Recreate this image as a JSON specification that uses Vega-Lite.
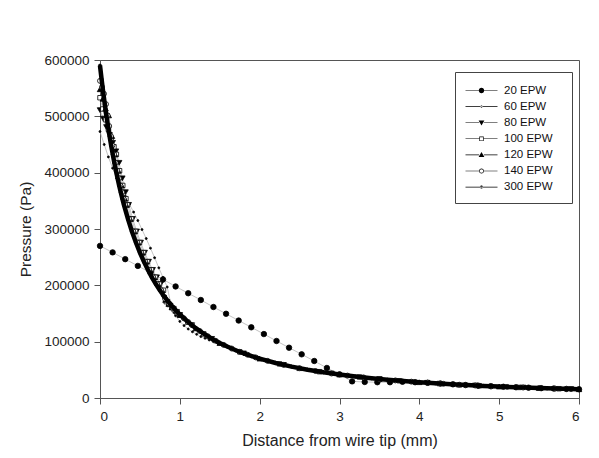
{
  "$schema": "https://vega.github.io/schema/vega-lite/v6.json",
  "width": 479,
  "height": 338,
  "autosize": {"type": "none"},
  "padding": {"left": 100, "top": 60, "right": 20, "bottom": 60},
  "background": "white",
  "config": {
    "font": "Liberation Sans",
    "view": {"stroke": "#555", "strokeWidth": 1},
    "axis": {"grid": false, "domainColor": "#555", "tickColor": "#555", "labelColor": "#222", "titleColor": "#222", "labelFont": "Liberation Sans", "titleFont": "Liberation Sans", "titleFontWeight": "normal", "tickSize": 6, "labelFontSize": 13.5}
  },
  "data": {"values": [
    {"s":"20 EPW","x":0,"y":270000},{"s":"20 EPW","x":0.158,"y":258500},{"s":"20 EPW","x":0.316,"y":246500},{"s":"20 EPW","x":0.474,"y":234500},{"s":"20 EPW","x":0.632,"y":222500},{"s":"20 EPW","x":0.789,"y":210500},{"s":"20 EPW","x":0.947,"y":198000},{"s":"20 EPW","x":1.105,"y":186000},{"s":"20 EPW","x":1.263,"y":174000},{"s":"20 EPW","x":1.421,"y":161500},{"s":"20 EPW","x":1.579,"y":149500},{"s":"20 EPW","x":1.737,"y":137500},{"s":"20 EPW","x":1.895,"y":125500},{"s":"20 EPW","x":2.053,"y":113500},{"s":"20 EPW","x":2.211,"y":101200},{"s":"20 EPW","x":2.368,"y":89300},{"s":"20 EPW","x":2.526,"y":77500},{"s":"20 EPW","x":2.684,"y":65700},{"s":"20 EPW","x":2.842,"y":53300},{"s":"20 EPW","x":3.0,"y":42000},{"s":"20 EPW","x":3.158,"y":29500},{"s":"20 EPW","x":3.316,"y":28500},{"s":"20 EPW","x":3.474,"y":28000},{"s":"20 EPW","x":3.632,"y":28000},{"s":"20 EPW","x":3.789,"y":28800},{"s":"20 EPW","x":3.947,"y":28000},{"s":"20 EPW","x":4.105,"y":27000},{"s":"20 EPW","x":4.263,"y":25600},{"s":"20 EPW","x":4.421,"y":24300},{"s":"20 EPW","x":4.579,"y":23000},{"s":"20 EPW","x":4.737,"y":21900},{"s":"20 EPW","x":4.895,"y":20900},{"s":"20 EPW","x":5.053,"y":19900},{"s":"20 EPW","x":5.211,"y":19100},{"s":"20 EPW","x":5.368,"y":18300},{"s":"20 EPW","x":5.526,"y":17500},{"s":"20 EPW","x":5.684,"y":16800},{"s":"20 EPW","x":5.842,"y":16100},{"s":"20 EPW","x":6.0,"y":15500},
    {"s":"60 EPW","x":0,"y":473000},{"s":"60 EPW","x":0.053,"y":450000},{"s":"60 EPW","x":0.105,"y":428000},{"s":"60 EPW","x":0.158,"y":408000},{"s":"60 EPW","x":0.211,"y":390000},{"s":"60 EPW","x":0.263,"y":373000},{"s":"60 EPW","x":0.316,"y":358000},{"s":"60 EPW","x":0.368,"y":344000},{"s":"60 EPW","x":0.421,"y":330000},{"s":"60 EPW","x":0.474,"y":315000},{"s":"60 EPW","x":0.526,"y":299000},{"s":"60 EPW","x":0.579,"y":283000},{"s":"60 EPW","x":0.632,"y":266000},{"s":"60 EPW","x":0.684,"y":249000},{"s":"60 EPW","x":0.737,"y":231000},{"s":"60 EPW","x":0.789,"y":214000},{"s":"60 EPW","x":0.842,"y":197000},{"s":"60 EPW","x":0.895,"y":162000},{"s":"60 EPW","x":0.947,"y":146000},{"s":"60 EPW","x":1.0,"y":136000},{"s":"60 EPW","x":1.053,"y":128500},{"s":"60 EPW","x":1.105,"y":122500},{"s":"60 EPW","x":1.158,"y":117500},{"s":"60 EPW","x":1.211,"y":113000},{"s":"60 EPW","x":1.263,"y":109000},{"s":"60 EPW","x":1.316,"y":106000},{"s":"60 EPW","x":1.368,"y":103000},{"s":"60 EPW","x":1.421,"y":100000},{"s":"60 EPW","x":1.474,"y":97000},{"s":"60 EPW","x":1.526,"y":94000},{"s":"60 EPW","x":1.6,"y":90500},{"s":"60 EPW","x":2.1,"y":65900},{"s":"60 EPW","x":2.6,"y":50300},{"s":"60 EPW","x":3.2,"y":38100},{"s":"60 EPW","x":3.8,"y":30100},{"s":"60 EPW","x":4.4,"y":24400},{"s":"60 EPW","x":5.0,"y":20300},{"s":"60 EPW","x":5.5,"y":17600},{"s":"60 EPW","x":6.0,"y":15500},
    {"s":"80 EPW","x":0,"y":511000},{"s":"80 EPW","x":0.04,"y":496000},{"s":"80 EPW","x":0.08,"y":481000},{"s":"80 EPW","x":0.12,"y":467000},{"s":"80 EPW","x":0.16,"y":453000},{"s":"80 EPW","x":0.2,"y":438000},{"s":"80 EPW","x":0.24,"y":417500},{"s":"80 EPW","x":0.28,"y":390000},{"s":"80 EPW","x":0.32,"y":365300},{"s":"80 EPW","x":0.36,"y":342900},{"s":"80 EPW","x":0.41,"y":317900},{"s":"80 EPW","x":0.46,"y":295700},{"s":"80 EPW","x":0.51,"y":275900},{"s":"80 EPW","x":0.56,"y":258000},{"s":"80 EPW","x":0.61,"y":242000},{"s":"80 EPW","x":0.66,"y":227500},{"s":"80 EPW","x":0.71,"y":214300},{"s":"80 EPW","x":0.76,"y":202200},{"s":"80 EPW","x":0.8,"y":178000},{"s":"80 EPW","x":0.84,"y":170500},{"s":"80 EPW","x":0.88,"y":164000},{"s":"80 EPW","x":0.92,"y":158500},{"s":"80 EPW","x":0.96,"y":153000},{"s":"80 EPW","x":1.0,"y":147500},{"s":"80 EPW","x":1.15,"y":129300},{"s":"80 EPW","x":1.4,"y":105000},{"s":"80 EPW","x":1.8,"y":79200},{"s":"80 EPW","x":2.3,"y":58800},{"s":"80 EPW","x":2.9,"y":43500},{"s":"80 EPW","x":3.5,"y":33700},{"s":"80 EPW","x":4.1,"y":27000},{"s":"80 EPW","x":4.7,"y":22200},{"s":"80 EPW","x":5.3,"y":18600},{"s":"80 EPW","x":5.9,"y":15900},
    {"s":"100 EPW","x":0,"y":533000},{"s":"100 EPW","x":0.035,"y":513000},{"s":"100 EPW","x":0.07,"y":494000},{"s":"100 EPW","x":0.105,"y":477000},{"s":"100 EPW","x":0.14,"y":461000},{"s":"100 EPW","x":0.175,"y":446000},{"s":"100 EPW","x":0.205,"y":432400},{"s":"100 EPW","x":0.245,"y":403400},{"s":"100 EPW","x":0.285,"y":377300},{"s":"100 EPW","x":0.325,"y":353800},{"s":"100 EPW","x":0.345,"y":342900},{"s":"100 EPW","x":0.395,"y":317900},{"s":"100 EPW","x":0.445,"y":295700},{"s":"100 EPW","x":0.495,"y":275900},{"s":"100 EPW","x":0.545,"y":258000},{"s":"100 EPW","x":0.595,"y":242000},{"s":"100 EPW","x":0.645,"y":227500},{"s":"100 EPW","x":0.695,"y":214300},{"s":"100 EPW","x":0.745,"y":202200},{"s":"100 EPW","x":0.795,"y":191300},{"s":"100 EPW","x":0.83,"y":171000},{"s":"100 EPW","x":0.865,"y":166000},{"s":"100 EPW","x":0.9,"y":160500},{"s":"100 EPW","x":0.93,"y":156500},{"s":"100 EPW","x":0.965,"y":151500},{"s":"100 EPW","x":1.0,"y":146800},{"s":"100 EPW","x":1.1,"y":134500},{"s":"100 EPW","x":1.3,"y":113800},{"s":"100 EPW","x":1.75,"y":82000},{"s":"100 EPW","x":2.25,"y":60500},{"s":"100 EPW","x":2.75,"y":46700},{"s":"100 EPW","x":3.25,"y":37300},{"s":"100 EPW","x":3.75,"y":30600},{"s":"100 EPW","x":4.25,"y":25700},{"s":"100 EPW","x":4.75,"y":21800},{"s":"100 EPW","x":5.25,"y":18800},{"s":"100 EPW","x":5.75,"y":16500},
    {"s":"120 EPW","x":0,"y":548000},{"s":"120 EPW","x":0.035,"y":531000},{"s":"120 EPW","x":0.07,"y":514000},{"s":"120 EPW","x":0.11,"y":501600},{"s":"120 EPW","x":0.15,"y":465000},{"s":"120 EPW","x":0.19,"y":432400},{"s":"120 EPW","x":0.23,"y":403400},{"s":"120 EPW","x":0.27,"y":377300},{"s":"120 EPW","x":0.31,"y":353800},{"s":"120 EPW","x":0.33,"y":342900},{"s":"120 EPW","x":0.38,"y":317900},{"s":"120 EPW","x":0.43,"y":295700},{"s":"120 EPW","x":0.48,"y":275900},{"s":"120 EPW","x":0.53,"y":258000},{"s":"120 EPW","x":0.58,"y":242000},{"s":"120 EPW","x":0.63,"y":227500},{"s":"120 EPW","x":0.68,"y":214300},{"s":"120 EPW","x":0.73,"y":202200},{"s":"120 EPW","x":0.78,"y":191300},{"s":"120 EPW","x":0.82,"y":174000},{"s":"120 EPW","x":0.86,"y":167000},{"s":"120 EPW","x":0.9,"y":161000},{"s":"120 EPW","x":0.95,"y":154500},{"s":"120 EPW","x":1.0,"y":147500},{"s":"120 EPW","x":1.2,"y":123500},{"s":"120 EPW","x":1.5,"y":97500},{"s":"120 EPW","x":2.0,"y":69900},{"s":"120 EPW","x":2.5,"y":52900},{"s":"120 EPW","x":3.0,"y":41600},{"s":"120 EPW","x":3.5,"y":33700},{"s":"120 EPW","x":4.0,"y":28000},{"s":"120 EPW","x":4.5,"y":23600},{"s":"120 EPW","x":5.0,"y":20300},{"s":"120 EPW","x":5.5,"y":17600},{"s":"120 EPW","x":6.0,"y":15500},
    {"s":"140 EPW","x":0,"y":563000},{"s":"140 EPW","x":0.025,"y":552000},{"s":"140 EPW","x":0.05,"y":540000},{"s":"140 EPW","x":0.075,"y":521600},{"s":"140 EPW","x":0.095,"y":501600},{"s":"140 EPW","x":0.115,"y":482700},{"s":"140 EPW","x":0.135,"y":465000},{"s":"140 EPW","x":0.155,"y":448200},{"s":"140 EPW","x":0.175,"y":432400},{"s":"140 EPW","x":0.195,"y":417500},{"s":"140 EPW","x":0.215,"y":403400},{"s":"140 EPW","x":0.235,"y":390000},{"s":"140 EPW","x":0.255,"y":377300},{"s":"140 EPW","x":0.275,"y":365300},{"s":"140 EPW","x":0.295,"y":353800},{"s":"140 EPW","x":0.315,"y":342900},{"s":"140 EPW","x":0.365,"y":317900},{"s":"140 EPW","x":0.415,"y":295700},{"s":"140 EPW","x":0.465,"y":275900},{"s":"140 EPW","x":0.515,"y":258000},{"s":"140 EPW","x":0.565,"y":242000},{"s":"140 EPW","x":0.615,"y":227500},{"s":"140 EPW","x":0.665,"y":214300},{"s":"140 EPW","x":0.715,"y":202200},{"s":"140 EPW","x":0.765,"y":191300},{"s":"140 EPW","x":0.815,"y":176000},{"s":"140 EPW","x":0.865,"y":168000},{"s":"140 EPW","x":0.915,"y":160000},{"s":"140 EPW","x":0.965,"y":153000},{"s":"140 EPW","x":1.05,"y":141500},{"s":"140 EPW","x":1.15,"y":129500},{"s":"140 EPW","x":1.25,"y":118900},{"s":"140 EPW","x":1.35,"y":109600},{"s":"140 EPW","x":1.45,"y":101500},{"s":"140 EPW","x":1.55,"y":94200},{"s":"140 EPW","x":1.65,"y":87800},{"s":"140 EPW","x":1.75,"y":82000},{"s":"140 EPW","x":1.85,"y":76800},{"s":"140 EPW","x":1.95,"y":72100},{"s":"140 EPW","x":2.1,"y":65900},{"s":"140 EPW","x":2.3,"y":58800},{"s":"140 EPW","x":2.5,"y":52900},{"s":"140 EPW","x":2.7,"y":47900},{"s":"140 EPW","x":2.9,"y":43500},{"s":"140 EPW","x":3.1,"y":39800},{"s":"140 EPW","x":3.3,"y":36600},{"s":"140 EPW","x":3.5,"y":33700},{"s":"140 EPW","x":3.7,"y":31200},{"s":"140 EPW","x":3.9,"y":29000},{"s":"140 EPW","x":4.1,"y":27000},{"s":"140 EPW","x":4.3,"y":25200},{"s":"140 EPW","x":4.5,"y":23600},{"s":"140 EPW","x":4.7,"y":22200},{"s":"140 EPW","x":4.9,"y":20900},{"s":"140 EPW","x":5.1,"y":19700},{"s":"140 EPW","x":5.3,"y":18600},{"s":"140 EPW","x":5.5,"y":17600},{"s":"140 EPW","x":5.7,"y":16700},{"s":"140 EPW","x":5.9,"y":15900},
    {"s":"300 EPW","x":0,"y":590000},{"s":"300 EPW","x":0.02,"y":565700},{"s":"300 EPW","x":0.04,"y":542900},{"s":"300 EPW","x":0.06,"y":521600},{"s":"300 EPW","x":0.08,"y":501600},{"s":"300 EPW","x":0.1,"y":482700},{"s":"300 EPW","x":0.12,"y":465000},{"s":"300 EPW","x":0.14,"y":448200},{"s":"300 EPW","x":0.16,"y":432400},{"s":"300 EPW","x":0.18,"y":417500},{"s":"300 EPW","x":0.2,"y":403400},{"s":"300 EPW","x":0.22,"y":390000},{"s":"300 EPW","x":0.24,"y":377300},{"s":"300 EPW","x":0.26,"y":365300},{"s":"300 EPW","x":0.28,"y":353800},{"s":"300 EPW","x":0.3,"y":342900},{"s":"300 EPW","x":0.35,"y":317900},{"s":"300 EPW","x":0.4,"y":295700},{"s":"300 EPW","x":0.45,"y":275900},{"s":"300 EPW","x":0.5,"y":258000},{"s":"300 EPW","x":0.55,"y":242000},{"s":"300 EPW","x":0.6,"y":227500},{"s":"300 EPW","x":0.65,"y":214300},{"s":"300 EPW","x":0.7,"y":202200},{"s":"300 EPW","x":0.75,"y":191300},{"s":"300 EPW","x":0.8,"y":181200},{"s":"300 EPW","x":0.85,"y":172000},{"s":"300 EPW","x":0.9,"y":163400},{"s":"300 EPW","x":0.95,"y":155600},{"s":"300 EPW","x":1.0,"y":148300},{"s":"300 EPW","x":1.1,"y":135300},{"s":"300 EPW","x":1.2,"y":124000},{"s":"300 EPW","x":1.3,"y":114100},{"s":"300 EPW","x":1.4,"y":105400},{"s":"300 EPW","x":1.5,"y":97700},{"s":"300 EPW","x":1.6,"y":90900},{"s":"300 EPW","x":1.7,"y":84800},{"s":"300 EPW","x":1.8,"y":79300},{"s":"300 EPW","x":1.9,"y":74400},{"s":"300 EPW","x":2.0,"y":69900},{"s":"300 EPW","x":2.2,"y":62200},{"s":"300 EPW","x":2.4,"y":55700},{"s":"300 EPW","x":2.6,"y":50300},{"s":"300 EPW","x":2.8,"y":45600},{"s":"300 EPW","x":3.0,"y":41600},{"s":"300 EPW","x":3.2,"y":38100},{"s":"300 EPW","x":3.4,"y":35100},{"s":"300 EPW","x":3.6,"y":32400},{"s":"300 EPW","x":3.8,"y":30100},{"s":"300 EPW","x":4.0,"y":28000},{"s":"300 EPW","x":4.2,"y":26100},{"s":"300 EPW","x":4.4,"y":24400},{"s":"300 EPW","x":4.6,"y":22900},{"s":"300 EPW","x":4.8,"y":21500},{"s":"300 EPW","x":5.0,"y":20300},{"s":"300 EPW","x":5.2,"y":19100},{"s":"300 EPW","x":5.4,"y":18100},{"s":"300 EPW","x":5.6,"y":17100},{"s":"300 EPW","x":5.8,"y":16300},{"s":"300 EPW","x":6.0,"y":15500}
  ]},
  "encoding": {
    "x": {"field": "x", "type": "quantitative", "scale": {"domain": [0, 6], "nice": false},
          "axis": {"values": [0, 1, 2, 3, 4, 5, 6], "format": "d", "title": "Distance from wire tip (mm)", "titleFontSize": 16, "labelPadding": 5, "titlePadding": 10}},
    "y": {"field": "y", "type": "quantitative", "scale": {"domain": [0, 600000], "nice": false},
          "axis": {"values": [0, 100000, 200000, 300000, 400000, 500000, 600000], "format": "d", "title": "Pressure (Pa)", "titleFontSize": 15.5, "labelPadding": 5, "titlePadding": 10}}
  },
  "layer": [
    {"mark": {"type": "line", "stroke": "#aaa", "strokeWidth": 0.7},
     "encoding": {"detail": {"field": "s", "type": "nominal"}}},
    {"mark": {"type": "point", "stroke": "black", "strokeWidth": 0.8, "opacity": 1},
     "encoding": {
       "shape": {"field": "s", "type": "nominal", "legend": null,
         "scale": {"domain": ["20 EPW","60 EPW","80 EPW","100 EPW","120 EPW","140 EPW","300 EPW"], "range": ["circle","circle","triangle-down","square","triangle-up","circle","circle"]}},
       "fill": {"condition": {"test": "datum.s === '100 EPW' || datum.s === '140 EPW'", "value": "white"}, "value": "black"},
       "size": {"condition": [
         {"test": "datum.s === '60 EPW'", "value": 4},
         {"test": "datum.s === '300 EPW'", "value": 10},
         {"test": "datum.s === '100 EPW'", "value": 20},
         {"test": "datum.s === '140 EPW'", "value": 25}
       ], "value": 30}
     }},
    {"transform": [{"filter": "datum.s === '300 EPW'"}],
     "mark": {"type": "line", "stroke": "black", "strokeWidth": 4.5},
     "encoding": {}},
    {"transform": [{"filter": "datum.x < 0"}],
     "mark": {"type": "point", "filled": true, "fill": "black", "stroke": "#333", "strokeWidth": 0.7, "opacity": 1},
     "encoding": {
       "shape": {"field": "s", "type": "nominal",
         "scale": {"domain": ["20 EPW","60 EPW","80 EPW","100 EPW","120 EPW","140 EPW","300 EPW"],
                   "range": [
                     "M-2,-0.04H-0.34V0.04H-2ZM0.34,-0.04H2V0.04H0.34ZM-0.34,0A0.34,0.34 0 1,0 0.34,0A0.34,0.34 0 1,0 -0.34,0Z",
                     "M-2,-0.04H2V0.04H-2ZM-0.13,0A0.13,0.13 0 1,0 0.13,0A0.13,0.13 0 1,0 -0.13,0Z",
                     "M-2,-0.04H-0.3V0.04H-2ZM0.3,-0.04H2V0.04H0.3ZM-0.36,-0.26L0.36,-0.26L0,0.36Z",
                     "M-2,-0.04H-0.28V0.04H-2ZM0.28,-0.04H2V0.04H0.28ZM-0.28,-0.28H0.28V0.28H-0.28ZM-0.2,-0.2V0.2H0.2V-0.2Z",
                     "M-2,-0.04H-0.3V0.04H-2ZM0.3,-0.04H2V0.04H0.3ZM-0.36,0.26L0.36,0.26L0,-0.36Z",
                     "M-2,-0.04H-0.31V0.04H-2ZM0.31,-0.04H2V0.04H0.31ZM-0.31,0A0.31,0.31 0 1,1 0.31,0A0.31,0.31 0 1,1 -0.31,0ZM-0.23,0A0.23,0.23 0 1,0 0.23,0A0.23,0.23 0 1,0 -0.23,0Z",
                     "M-2,-0.04H2V0.04H-2ZM-0.19,0A0.19,0.19 0 1,0 0.19,0A0.19,0.19 0 1,0 -0.19,0Z"
                   ]},
         "legend": {"title": "\u00a0", "titleOrient": "right", "titlePadding": 9, "titleFontSize": 11.5, "orient": "none", "legendX": 355, "legendY": 12, "padding": 10, "strokeColor": "#444", "fillColor": "white", "symbolSize": 256, "symbolOffset": 8, "labelOffset": 14, "rowPadding": 2.1, "labelFontSize": 11.5, "labelFont": "Liberation Sans", "labelColor": "#111", "symbolFillColor": "black", "symbolStrokeColor": "#333", "symbolStrokeWidth": 0.7}
       }
     }}
  ],
  "resolve": {"scale": {"shape": "independent"}}
}
